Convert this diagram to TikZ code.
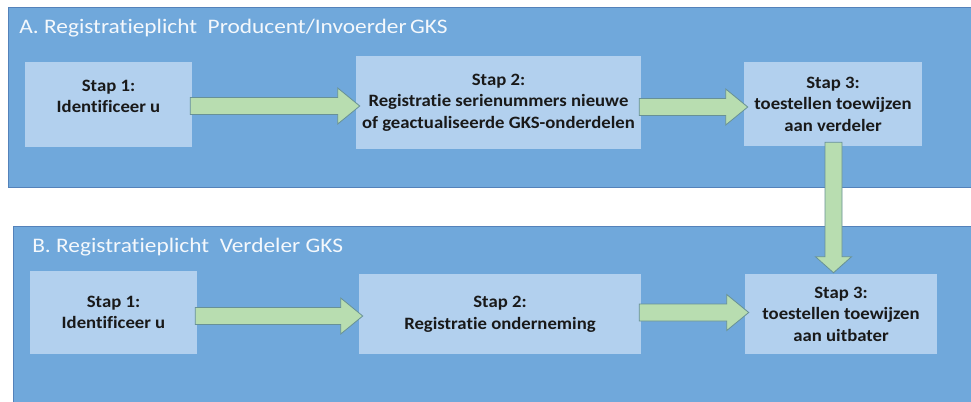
\documentclass[tikz,border=0pt]{standalone}
\usepackage{fontspec}
\setmainfont[Ligatures=NoCommon]{Carlito}
\newfontfamily\boxfont[FakeStretch=1.08, Ligatures=NoCommon]{Carlito}
\newfontfamily\titlefont[FakeStretch=1.13, Ligatures=NoCommon]{Carlito}
\usetikzlibrary{calc}
\definecolor{panelfill}{RGB}{112,168,219}
\definecolor{panelline}{RGB}{84,130,186}
\definecolor{boxfill}{RGB}{178,208,238}
\definecolor{arrfill}{RGB}{184,221,176}
\definecolor{arrline}{RGB}{104,145,150}
\tikzset{
  panel/.style={fill=panelfill, draw=panelline, line width=0.6pt},
  stepbox/.style={fill=boxfill, draw=none, align=center, inner sep=0pt,
    font=\boxfont\fontsize{13pt}{16.2pt}\selectfont\bfseries, text=black!90},
  paneltitle/.style={anchor=west, inner sep=0pt, text=white!92!panelfill,
    font=\titlefont\fontsize{15.5pt}{18pt}\selectfont},
  blockarrow/.style={fill=arrfill, draw=arrline, line width=0.6pt, line join=miter}
}
% horizontal block arrow: from node #1 to node #2, at reference coordinate #3
\newcommand\harrow[3]{%
  \coordinate (hs) at (#1.east |- #3);
  \coordinate (he) at (#2.west |- #3);
  \draw[blockarrow] ($(hs)+(-2,-8.5)$) -- ($(he)+(-18,-8.5)$) -- ($(he)+(-18,-18)$)
    -- ($(he)+(4,0)$) -- ($(he)+(-18,18)$) -- ($(he)+(-18,8.5)$)
    -- ($(hs)+(-2,8.5)$) -- cycle;}
\begin{document}
\begin{tikzpicture}[x=0.75pt, y=-0.75pt]
\useasboundingbox (0,0) rectangle (971,401);
\fill[white] (0,0) rectangle (971,401);
% panels
\path[panel] (8,7) rectangle (975,187);
\path[panel] (13,226) rectangle (975,406);
\node[paneltitle] (ta) at (19,28) {A. Registratieplicht\ \ Producent/Invoerder\,GKS};
\node[paneltitle] (tb) at (32,247) {B. Registratieplicht\ \ Verdeler GKS};
% boxes
\node[stepbox, minimum width=167*0.75pt, minimum height=85*0.75pt] (a1) at (108.5,104.5) {\raisebox{5.25pt}[\height][\depth]{\begin{tabular}{@{}c@{}}Stap 1:\\Identificeer u\end{tabular}}};
\node[stepbox, minimum width=285*0.75pt, minimum height=93*0.75pt] (a2) at (498.5,102.5) {Stap 2:\\Registratie serienummers nieuwe\\of geactualiseerde GKS-onderdelen};
\node[stepbox, minimum width=178*0.75pt, minimum height=84*0.75pt] (a3) at (833,104) {Stap 3:\\toestellen toewijzen\\aan verdeler};
\node[stepbox, minimum width=167*0.75pt, minimum height=83*0.75pt] (b1) at (113.5,312.5) {Stap 1:\\Identificeer u};
\node[stepbox, minimum width=282*0.75pt, minimum height=80*0.75pt] (b2) at (500,314) {Stap 2:\\Registratie onderneming};
\node[stepbox, minimum width=192*0.75pt, minimum height=80*0.75pt] (b3) at (841,314) {Stap 3:\\toestellen toewijzen\\aan uitbater};
% arrow reference heights
\coordinate (ya1) at (0,106);
\coordinate (ya2) at (0,107);
\coordinate (yb1) at (0,316);
\coordinate (yb2) at (0,312.5);
\harrow{a1}{a2}{ya1}
\harrow{a2}{a3}{ya2}
\harrow{b1}{b2}{yb1}
\harrow{b2}{b3}{yb2}
% vertical block arrow from a3 to b3
\coordinate (xv) at (833.5,0);
\coordinate (vs) at (a3.south -| xv);
\coordinate (ve) at (b3.north -| xv);
\draw[blockarrow] ($(vs)+(-8.5,-4)$) -- ($(ve)+(-8.5,-17)$) -- ($(ve)+(-18,-17)$)
  -- ($(ve)+(0,-1)$) -- ($(ve)+(18,-17)$) -- ($(ve)+(8.5,-17)$)
  -- ($(vs)+(8.5,-4)$) -- cycle;
\end{tikzpicture}
\end{document}
